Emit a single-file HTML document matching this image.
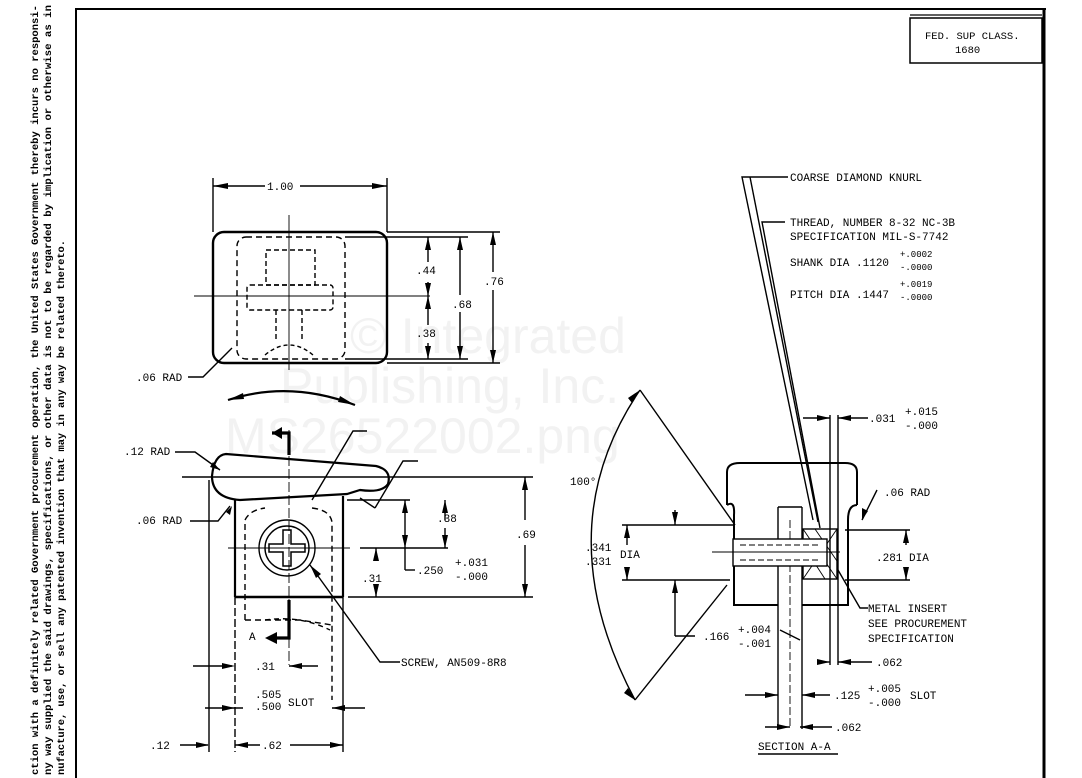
<!DOCTYPE html>
<html><head><meta charset="utf-8"><style>
html,body{margin:0;padding:0;background:#fff}
svg{display:block}
text{font-family:"Liberation Mono",monospace;font-size:11px;fill:#000}
.wm{font-family:"Liberation Sans",sans-serif;font-size:50px;fill:#f2f2f2}
.side{font-family:"Liberation Mono",monospace;font-size:10px;font-weight:bold}
</style></head><body>
<svg width="1082" height="778" viewBox="0 0 1082 778" xmlns="http://www.w3.org/2000/svg">
<g stroke="#000" fill="none" stroke-width="1.3">
<line x1="76" y1="8" x2="76" y2="778" stroke-width="2"/>
<line x1="76" y1="9" x2="1046" y2="9" stroke-width="2"/>
<line x1="1044" y1="9" x2="1044" y2="778" stroke-width="3"/>
<rect x="910" y="18" width="132" height="45" stroke-width="1.5"/>
<line x1="910" y1="15" x2="1042" y2="15"/>
</g>
<text class="wm" x="350" y="353">© Integrated</text>
<text class="wm" x="280" y="403">Publishing, Inc.</text>
<text class="wm" x="225" y="453">MS26522002.png</text>

<text x="925" y="39" style="font-size:10.5px">FED. SUP CLASS.</text>
<text x="955" y="53" style="font-size:10.5px">1680</text>

<text class="side" transform="translate(38,775) rotate(-90)" textLength="770" lengthAdjust="spacingAndGlyphs">ction with a definitely related Government procurement operation, the United States Government thereby incurs no responsi-</text>
<text class="side" transform="translate(51,775) rotate(-90)" textLength="770" lengthAdjust="spacingAndGlyphs">ny way supplied the said drawings, specifications, or other data is not to be regarded by implication or otherwise as in</text>
<text class="side" transform="translate(64,775) rotate(-90)" textLength="535" lengthAdjust="spacingAndGlyphs">nufacture, use, or sell any patented invention that may in any way be related thereto.</text>

<g stroke="#000" fill="none" stroke-width="1.4">
<rect x="213" y="232" width="174" height="131" rx="11" stroke-width="2.4"/>
<rect x="237" y="237" width="108" height="122" rx="9" stroke-dasharray="6,4"/>
<rect x="266" y="250" width="49" height="35" stroke-dasharray="5,3"/>
<rect x="247" y="285" width="86" height="25" rx="3" stroke-dasharray="5,3"/>
<line x1="276" y1="310" x2="276" y2="340" stroke-dasharray="5,3"/>
<line x1="302" y1="310" x2="302" y2="340" stroke-dasharray="5,3"/>
<path d="M265 355 Q289 335 313 355" stroke-dasharray="4,3"/>
<line x1="194" y1="296" x2="430" y2="296" stroke-width="0.9"/>
<line x1="289" y1="215" x2="289" y2="370" stroke-width="0.9"/>
<line x1="213" y1="178" x2="213" y2="232"/>
<line x1="387" y1="178" x2="387" y2="232"/>
<line x1="213" y1="186" x2="265" y2="186"/><line x1="300" y1="186" x2="387" y2="186"/>
<line x1="387" y1="232" x2="500" y2="232"/>
<line x1="387" y1="363" x2="500" y2="363"/>
<line x1="345" y1="237" x2="468" y2="237"/>
<line x1="345" y1="359" x2="468" y2="359"/>
<line x1="428" y1="237" x2="428" y2="262"/><line x1="428" y1="282" x2="428" y2="325"/><line x1="428" y1="343" x2="428" y2="359"/>
<line x1="460" y1="237" x2="460" y2="295"/><line x1="460" y1="312" x2="460" y2="359"/>
<line x1="493" y1="232" x2="493" y2="272"/><line x1="493" y1="290" x2="493" y2="363"/>
<polyline points="188,377 203,377 232,348"/>
<path d="M228 400 Q290 380 355 405" stroke-width="2.2"/>
</g>
<g fill="#000">
<polygon points="213,186 228,183 228,189"/><polygon points="387,186 372,183 372,189"/>
<polygon points="428,237 425,250 431,250"/><polygon points="428,296 425,283 431,283"/><polygon points="428,296 425,309 431,309"/><polygon points="428,359 425,346 431,346"/>
<polygon points="460,237 457,250 463,250"/><polygon points="460,359 457,346 463,346"/>
<polygon points="493,232 490,245 496,245"/><polygon points="493,363 490,350 496,350"/>
<polygon points="228,400 243,393 244,399"/><polygon points="355,405 340,396 338,402"/>
</g>
<text x="267" y="190">1.00</text>
<text x="416" y="274">.44</text>
<text x="416" y="337">.38</text>
<text x="452" y="308">.68</text>
<text x="484" y="285">.76</text>
<text x="136" y="381">.06 RAD</text>

<g stroke="#000" fill="none" stroke-width="1.4">
<path d="M226 454 L376 466 Q392 470 388 484 Q382 493 360 490 L347 494 L240 500 Q212 498 212 476 Q214 455 226 454 Z" stroke-width="2.2"/>
<line x1="182" y1="477" x2="533" y2="477"/>
<line x1="235" y1="500" x2="235" y2="597" stroke-width="2.2"/>
<line x1="343" y1="496" x2="343" y2="597" stroke-width="2.2"/>
<line x1="235" y1="597" x2="343" y2="597" stroke-width="2.6"/>
<line x1="347" y1="500" x2="410" y2="500"/>
<line x1="348" y1="597" x2="533" y2="597"/>
<path d="M245 620 L245 520 Q250 510 265 508 M312 508 Q330 510 332 522 L332 700" stroke-dasharray="6,4"/>
<path d="M245 620 L300 620 L332 625" stroke-dasharray="6,4"/>
<circle cx="287" cy="548" r="28"/>
<circle cx="287" cy="548" r="22"/>
<path d="M283 530 h8 v14 h14 v8 h-14 v14 h-8 v-14 h-14 v-8 h14 z" stroke-width="1.5"/>
<line x1="228" y1="548" x2="350" y2="548" stroke-width="0.9"/>
<line x1="360" y1="548" x2="448" y2="548"/>
<line x1="289" y1="430" x2="289" y2="665" stroke-width="0.9" stroke-dasharray="10,3"/>
<path d="M289 455 V433 H272" stroke-width="3.2"/>
<path d="M289 600 V638 H272" stroke-width="3.2"/>
<polyline points="312,500 353,431 367,431"/>
<polyline points="375,508 403,461 418,461"/>
<polyline points="360,498 375,508"/>
<polyline points="310,565 380,662 400,662"/>
<polyline points="175,452 195,452 220,470"/>
<polyline points="190,521 218,521 230,506"/>
<line x1="445" y1="500" x2="445" y2="520"/><line x1="445" y1="528" x2="445" y2="548"/>
<line x1="405" y1="500" x2="405" y2="570"/><line x1="405" y1="570" x2="415" y2="570"/>
<line x1="376" y1="548" x2="376" y2="560"/><line x1="376" y1="590" x2="376" y2="597"/>
<line x1="525" y1="477" x2="525" y2="520"/><line x1="525" y1="545" x2="525" y2="597"/>
<line x1="209" y1="480" x2="209" y2="752"/>
<line x1="235" y1="597" x2="235" y2="752" stroke-dasharray="8,3"/>
<line x1="343" y1="597" x2="343" y2="752"/>
<line x1="193" y1="666" x2="232" y2="666"/><line x1="289" y1="666" x2="318" y2="666"/>
<line x1="205" y1="708" x2="243" y2="708"/><line x1="332" y1="708" x2="365" y2="708"/>
<line x1="180" y1="745" x2="208" y2="745"/>
<line x1="235" y1="745" x2="260" y2="745"/><line x1="290" y1="745" x2="343" y2="745"/>
<path d="M265 620 Q300 615 330 630" stroke-dasharray="5,4"/>
</g>
<g fill="#000">
<polygon points="272,433 282,427 282,439"/><polygon points="265,638 277,632 277,644"/>
<polygon points="445,500 442,513 448,513"/><polygon points="445,548 442,535 448,535"/>
<polygon points="405,500 402,513 408,513"/><polygon points="405,548 402,535 408,535"/>
<polygon points="376,548 373,561 379,561"/><polygon points="376,597 373,584 379,584"/>
<polygon points="525,477 522,490 528,490"/><polygon points="525,597 522,584 528,584"/>
<polygon points="310,565 316,578 321,574"/>
<polygon points="235,666 222,663 222,669"/><polygon points="289,666 302,663 302,669"/>
<polygon points="235,708 222,705 222,711"/><polygon points="332,708 345,705 345,711"/>
<polygon points="209,745 196,742 196,748"/><polygon points="235,745 248,742 248,748"/><polygon points="343,745 330,742 330,748"/>
<polygon points="232,506 226,512 230,515"/><polygon points="220,470 213,462 210,467"/>
</g>
<text x="124" y="455">.12 RAD</text>
<text x="136" y="524">.06 RAD</text>
<text x="437" y="522">.38</text>
<text x="516" y="538">.69</text>
<text x="362" y="582">.31</text>
<text x="417" y="574">.250</text>
<text x="455" y="566">+.031</text>
<text x="455" y="580">-.000</text>
<text x="249" y="640">A</text>
<text x="255" y="670">.31</text>
<text x="255" y="698">.505</text>
<text x="255" y="710">.500</text>
<text x="288" y="706">SLOT</text>
<text x="150" y="749">.12</text>
<text x="262" y="749">.62</text>
<text x="401" y="666">SCREW, AN509-8R8</text>

<g stroke="#000" fill="none" stroke-width="1.4">
<path d="M727 505 L727 472 Q727 463 740 463 L845 463 Q857 463 857 472 L857 505" stroke-width="2"/>
<path d="M727 505 Q735 500 734 515 L734 605 L778 605 M802 605 L848 605 L848 520 Q848 505 857 505" stroke-width="2"/>
<line x1="778" y1="507" x2="778" y2="729"/>
<line x1="802" y1="507" x2="802" y2="729"/>
<line x1="778" y1="507" x2="802" y2="507"/>
<line x1="790" y1="520" x2="790" y2="729" stroke-dasharray="8,3" stroke-width="0.9"/>
<rect x="803" y="529" width="34" height="50" fill="#fff"/>
<path d="M803 529 l34 50 M803 579 l34 -50 M815 529 l22 32 M803 545 l22 34" stroke-width="0.9"/>
<rect x="733" y="539" width="94" height="27" fill="#fff"/>
<line x1="740" y1="545" x2="820" y2="545" stroke-dasharray="6,3" stroke-width="0.9"/>
<line x1="740" y1="560" x2="820" y2="560" stroke-dasharray="6,3" stroke-width="0.9"/>
<line x1="712" y1="552" x2="840" y2="552" stroke-width="0.9"/>
<line x1="830" y1="415" x2="830" y2="665"/>
<line x1="838" y1="415" x2="838" y2="665"/>
<polyline points="788,177 742,177 813,520"/>
<polyline points="785,222 762,222 820,528"/>
<line x1="750" y1="177" x2="818" y2="522"/>
<line x1="640" y1="390" x2="735" y2="525"/>
<line x1="635" y1="700" x2="727" y2="585"/>
<path d="M640 390 Q545 530 635 700"/>
<line x1="622" y1="525" x2="735" y2="525"/><line x1="622" y1="580" x2="730" y2="580"/>
<line x1="627" y1="525" x2="627" y2="545"/><line x1="627" y1="568" x2="627" y2="580"/>
<line x1="675" y1="510" x2="675" y2="525"/><line x1="675" y1="580" x2="675" y2="636"/>
<line x1="675" y1="636" x2="695" y2="636"/>
<line x1="845" y1="530" x2="910" y2="530"/><line x1="845" y1="580" x2="910" y2="580"/>
<line x1="906" y1="530" x2="906" y2="545"/><line x1="906" y1="568" x2="906" y2="580"/>
<polyline points="877,490 862,520"/>
<polyline points="838,570 860,608 868,608"/>
<line x1="803" y1="418" x2="830" y2="418"/><line x1="838" y1="418" x2="868" y2="418"/>
<line x1="820" y1="662" x2="830" y2="662"/><line x1="838" y1="662" x2="872" y2="662"/>
<line x1="745" y1="695" x2="778" y2="695"/><line x1="802" y1="695" x2="830" y2="695"/>
<line x1="765" y1="727" x2="790" y2="727"/><line x1="800" y1="727" x2="832" y2="727"/>
<line x1="758" y1="754" x2="838" y2="754"/>
<line x1="780" y1="630" x2="800" y2="640"/>
</g>
<g fill="#000">
<polygon points="640,390 628,398 632,403"/><polygon points="635,700 624,693 628,688"/>
<polygon points="627,525 624,538 630,538"/><polygon points="627,580 624,567 630,567"/>
<polygon points="675,525 672,512 678,512"/><polygon points="675,580 672,593 678,593"/>
<polygon points="906,530 903,543 909,543"/><polygon points="906,580 903,567 909,567"/>
<polygon points="830,418 817,415 817,421"/><polygon points="838,418 851,415 851,421"/>
<polygon points="830,662 817,659 817,665"/><polygon points="838,662 851,659 851,665"/>
<polygon points="778,695 765,692 765,698"/><polygon points="802,695 815,692 815,698"/>
<polygon points="790,727 777,724 777,730"/><polygon points="800,727 813,724 813,730"/>
<polygon points="862,520 862,508 868,511"/>
</g>
<text x="790" y="181">COARSE DIAMOND KNURL</text>
<text x="790" y="226">THREAD, NUMBER 8-32 NC-3B</text>
<text x="790" y="240">SPECIFICATION MIL-S-7742</text>
<text x="790" y="266">SHANK DIA .1120</text>
<text x="900" y="257" style="font-size:9px">+.0002</text>
<text x="900" y="270" style="font-size:9px">-.0000</text>
<text x="790" y="298">PITCH DIA .1447</text>
<text x="900" y="287" style="font-size:9px">+.0019</text>
<text x="900" y="300" style="font-size:9px">-.0000</text>
<text x="869" y="422">.031</text>
<text x="905" y="415">+.015</text>
<text x="905" y="429">-.000</text>
<text x="570" y="485">100°</text>
<text x="884" y="496">.06 RAD</text>
<text x="585" y="551">.341</text>
<text x="585" y="565">.331</text>
<text x="620" y="558">DIA</text>
<text x="876" y="561">.281 DIA</text>
<text x="868" y="612">METAL INSERT</text>
<text x="868" y="627">SEE PROCUREMENT</text>
<text x="868" y="642">SPECIFICATION</text>
<text x="703" y="640">.166</text>
<text x="738" y="633">+.004</text>
<text x="738" y="647">-.001</text>
<text x="876" y="666">.062</text>
<text x="834" y="699">.125</text>
<text x="868" y="692">+.005</text>
<text x="868" y="706">-.000</text>
<text x="910" y="699">SLOT</text>
<text x="835" y="731">.062</text>
<text x="758" y="750">SECTION A-A</text>
</svg>
</body></html>
